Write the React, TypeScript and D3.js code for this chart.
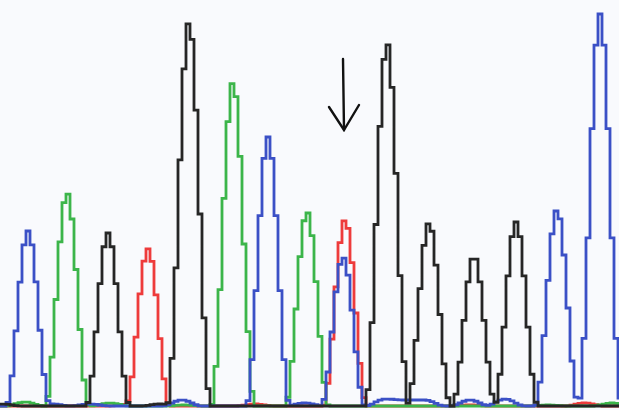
import React from "react";
import * as d3 from "d3";

const W = 619;
const H = 410;

// Peak calls: [scan position, signal height]
const peaksA: [number, number][] = [[67, 213], [233, 324], [307, 194]];
const peaksC: [number, number][] = [[28, 175], [268, 269], [343, 148], [557, 196], [600, 392]];
const peaksG: [number, number][] = [[108, 173], [189, 384], [387, 363], [429, 183], [474, 150], [516, 184]];
const peaksT: [number, number][] = [[148, 157], [345, 186]];

// Low baseline bumps: [scan position, signal height]
const noiseA: [number, number][] = [[25, 4], [110, 3], [185, 1], [548, 1], [612, 3]];
const noiseC: [number, number][] = [[52, 2], [90, 2], [182, 6], [305, 3], [352, 1], [385, 7], [405, 6], [425, 6], [470, 6], [505, 7]];
const noiseG: [number, number][] = [[2, 2], [160, 2]];
const noiseT: [number, number][] = [[130, 2], [255, 2], [470, 1], [585, 3]];

const channels = [
  { name: "T", color: "#ee3b3b", peaks: peaksT, noise: noiseT },
  { name: "A", color: "#3cb54a", peaks: peaksA, noise: noiseA },
  { name: "C", color: "#3b50c6", peaks: peaksC, noise: noiseC },
  { name: "G", color: "#262626", peaks: peaksG, noise: noiseG },
];

const HALF_BASE = 22;
const NOISE_HALF_BASE = 20;
const scans = d3.range(0, 624, 4);

function bump(d: number, r: number) {
  if (Math.abs(d) >= r) return 0;
  const c = Math.cos((Math.PI * d) / (2 * r));
  return c * c;
}

function signal(s: number, peaks: [number, number][], noise: [number, number][]) {
  let v = 0;
  for (const [p, h] of peaks) v += h * bump(s - p, HALF_BASE);
  for (const [p, h] of noise) v += h * bump(s - p, NOISE_HALF_BASE);
  return v;
}

export default function App() {
  const x = d3.scaleLinear().domain([0, 619]).range([0, W]);
  const y = d3.scaleLinear().domain([0, 400]).range([406, 6]);
  const line = d3
    .line<[number, number]>()
    .x((d) => x(d[0]))
    .y((d) => y(d[1]))
    .curve(d3.curveStep);

  return (
    <svg
      width={W}
      height={H}
      style={{ position: "fixed", left: 0, top: 0, background: "#f9fafd" }}
    >
      <rect x={0} y={0} width={W} height={H} fill="#f9fafd" />
      {channels.map((c) => {
        const pts: [number, number][] = scans.map((s) => [s, signal(s, c.peaks, c.noise)]);
        return (
          <path
            key={c.name}
            d={line(pts) || ""}
            fill="none"
            stroke={c.color}
            strokeWidth={2.8}
            strokeLinejoin="miter"
          />
        );
      })}
      <g stroke="#111" strokeWidth={2.4} fill="none" strokeLinecap="round">
        <line x1={343} y1={59} x2={344} y2={130} />
        <polyline points="329,107 344,130 359,105" />
      </g>
    </svg>
  );
}
